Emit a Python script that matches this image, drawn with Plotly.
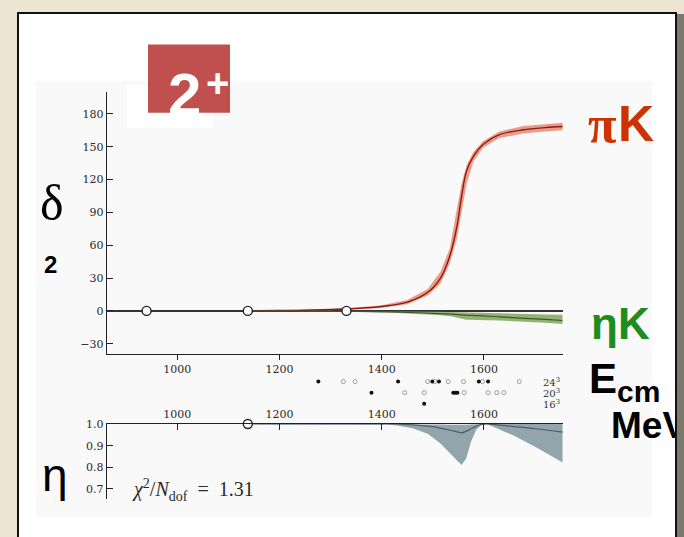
import plotly.graph_objects as go

W, H = 684, 537
def fx(px): return px / W
def fy(py): return 1 - py / H

# ---------------- data ----------------
thresholds_top = [940, 1138, 1331]
thresholds_bot = [1138]

pik_E     = [1138, 1200, 1250, 1300, 1350, 1400, 1450, 1490, 1515, 1533, 1547, 1556, 1566, 1579, 1598, 1630, 1677, 1720, 1754]
pik_delta = [0, 0.3, 0.6, 1.2, 2.2, 4, 8, 17, 30, 50, 77, 104, 128, 141, 152, 161, 165.5, 167.5, 168.5]
pik_hi    = [0, 0.5, 1.0, 1.8, 3.0, 5.2, 10, 20, 36, 57, 93, 116, 133, 145, 155, 164, 169, 171, 172]
pik_lo    = [0, 0.1, 0.2, 0.6, 1.4, 2.8, 6, 14, 25, 43, 66, 89, 116, 136, 149, 158, 162, 164, 165]

etak_E     = [1138, 1250, 1350, 1420, 1470, 1510, 1535, 1550, 1565, 1590, 1630, 1680, 1720, 1754]
etak_delta = [0, -0.1, -0.4, -1.0, -1.7, -2.5, -3.0, -3.4, -3.9, -4.4, -5.4, -6.8, -7.8, -8.8]
etak_hi    = [0, 0, -0.1, -0.3, -0.6, -0.9, -1.1, -1.3, -1.6, -1.9, -2.3, -2.8, -3.2, -3.6]
etak_lo    = [0, -0.3, -0.8, -1.7, -2.8, -3.8, -4.8, -6.5, -8.0, -8.3, -8.8, -9.8, -10.8, -12.0]

eta_E   = [1138, 1400, 1430, 1460, 1490, 1515, 1535, 1550, 1556, 1565, 1575, 1585, 1595, 1605, 1630, 1660, 1700, 1754]
eta_val = [1, 1, 0.999, 0.996, 0.99, 0.981, 0.971, 0.962, 0.959, 0.966, 0.978, 0.99, 0.998, 1.0, 0.995, 0.988, 0.978, 0.962]
eta_lo  = [1, 1, 0.993, 0.98, 0.955, 0.91, 0.862, 0.826, 0.811, 0.84, 0.92, 0.975, 0.995, 1.0, 0.975, 0.945, 0.895, 0.822]
eta_hi  = [1, 1, 1, 1, 1, 0.998, 0.996, 0.995, 0.995, 0.996, 0.998, 1, 1, 1, 1, 1, 1, 1]

# lattice levels: rows 3 = 24^3, 2 = 20^3, 1 = 16^3
lev_used_E   = [1276, 1432, 1499, 1512, 1590, 1608, 1380, 1540, 1544, 1548, 1483]
lev_used_row = [3, 3, 3, 3, 3, 3, 2, 2, 2, 2, 1]
lev_other_E   = [1325, 1348, 1490, 1504, 1530, 1560, 1597, 1669, 1445, 1483, 1561, 1608, 1625, 1639]
lev_other_row = [3, 3, 3, 3, 3, 3, 3, 3, 2, 2, 2, 2, 2, 2]
row_vals   = [3, 2, 1]
row_labels = ["24<sup>3</sup>", "20<sup>3</sup>", "16<sup>3</sup>"]

xticks = [1000, 1200, 1400, 1600]
dticks = [-30, 0, 30, 60, 90, 120, 150, 180]
eticks = [0.7, 0.8, 0.9, 1.0]
eticktext = ["0.7", "0.8", "0.9", "1.0"]
chi2_text = "<i>χ</i><sup>2</sup>/<i>N</i><sub>dof</sub>&nbsp;&nbsp;=&nbsp;&nbsp;1.31"

# ---------------- figure ----------------
fig = go.Figure()

def band(xs, lo, hi, color, xa, ya):
    fig.add_trace(go.Scatter(x=list(xs) + list(xs)[::-1], y=list(hi) + list(lo)[::-1],
                             fill="toself", fillcolor=color, line=dict(width=0),
                             mode="lines", xaxis=xa, yaxis=ya, hoverinfo="skip"))

band(pik_E, pik_lo, pik_hi, "rgba(232,140,118,0.85)", "x", "y")
band(etak_E, etak_lo, etak_hi, "rgba(130,165,95,0.85)", "x", "y")
fig.add_trace(go.Scatter(x=pik_E, y=pik_delta, mode="lines", line=dict(color="#8e1a14", width=1.4, shape="spline"), xaxis="x", yaxis="y"))
fig.add_trace(go.Scatter(x=etak_E, y=etak_delta, mode="lines", line=dict(color="#3d5a2c", width=1.2, shape="spline"), xaxis="x", yaxis="y"))
fig.add_trace(go.Scatter(x=thresholds_top, y=[0] * len(thresholds_top), mode="markers",
                         marker=dict(size=9, color="white", line=dict(color="#222", width=1.4)), xaxis="x", yaxis="y"))

band(eta_E, eta_lo, eta_hi, "rgba(140,160,168,0.95)", "x2", "y2")
fig.add_trace(go.Scatter(x=eta_E, y=eta_val, mode="lines", line=dict(color="#4a5e6a", width=1.2, shape="spline"), xaxis="x2", yaxis="y2"))
fig.add_trace(go.Scatter(x=thresholds_bot, y=[1.0] * len(thresholds_bot), mode="markers", cliponaxis=False,
                         marker=dict(size=9, color="white", line=dict(color="#222", width=1.4)), xaxis="x2", yaxis="y2"))

fig.add_trace(go.Scatter(x=lev_other_E, y=lev_other_row, mode="markers",
                         marker=dict(size=4, color="white", line=dict(color="#999", width=1)), xaxis="x3", yaxis="y3"))
fig.add_trace(go.Scatter(x=lev_used_E, y=lev_used_row, mode="markers",
                         marker=dict(size=4, color="#111"), xaxis="x3", yaxis="y3"))

# clipped "MeV" label (cut by slide border)
fig.add_trace(go.Scatter(x=[611], y=[428], mode="text", text=["<b>MeV</b>"], textposition="middle right",
                         textfont=dict(family="Liberation Sans", size=37, color="#000"),
                         cliponaxis=True, xaxis="x4", yaxis="y4"))

tickfont = dict(family="DejaVu Serif", size=11, color="#2a2a2a")
xd = [fx(106.7), fx(562.7)]
xr = [862, 1754]
fig.update_layout(
    width=W, height=H, margin=dict(l=0, r=0, t=0, b=0),
    paper_bgcolor="#ebe5d1", plot_bgcolor="rgba(0,0,0,0)", showlegend=False,
    xaxis=dict(domain=xd, range=xr, anchor="y", tickvals=xticks, ticks="outside", ticklen=5,
               showline=True, linecolor="#222", linewidth=1.2, tickcolor="#222", showgrid=False,
               zeroline=False, tickfont=tickfont),
    yaxis=dict(domain=[fy(351.7), fy(87)], range=[-39.2, 200], anchor="x", tickvals=dticks,
               ticks="inside", ticklen=6, showline=True, linecolor="#222", linewidth=1.2,
               tickcolor="#222", showgrid=False, zeroline=True, zerolinecolor="#333",
               zerolinewidth=1.5, tickfont=tickfont),
    xaxis2=dict(domain=xd, range=xr, anchor="y2", side="top", tickvals=xticks, ticks="inside",
                ticklen=6, showline=True, linecolor="#222", linewidth=1.4, tickcolor="#222",
                showgrid=False, zeroline=False, tickfont=tickfont),
    yaxis2=dict(domain=[fy(498.3), fy(422.7)], range=[0.655, 1.0], anchor="x2", tickvals=eticks,
                ticktext=eticktext, ticks="inside", ticklen=6, showline=True, linecolor="#222",
                linewidth=1.2, tickcolor="#222", showgrid=False, zeroline=False, tickfont=tickfont),
    xaxis3=dict(domain=xd, range=xr, anchor="y3", visible=False),
    yaxis3=dict(domain=[fy(410), fy(372)], range=[0.3, 3.7], anchor="x3", visible=False),
    xaxis4=dict(domain=[0, fx(675)], range=[0, 675], anchor="y4", visible=False),
    yaxis4=dict(domain=[0, 1], range=[537, 0], anchor="x4", visible=False),
)

shapes = [
    dict(type="rect", xref="paper", yref="paper", x0=fx(677), x1=1.02, y0=-0.05, y1=fy(8),
         fillcolor="#7b786c", line=dict(width=0), layer="below"),
    dict(type="rect", xref="paper", yref="paper", x0=fx(18), x1=fx(676), y0=-0.05, y1=fy(7),
         fillcolor="white", line=dict(color="#111", width=2), layer="below"),
    dict(type="rect", xref="paper", yref="paper", x0=fx(36), x1=fx(652), y0=fy(517), y1=fy(76),
         fillcolor="#f9f9f9", line=dict(width=0), layer="below"),
    dict(type="rect", xref="paper", yref="paper", x0=fx(127), x1=fx(213), y0=fy(123), y1=fy(80),
         fillcolor="white", line=dict(width=0), layer="below"),
    dict(type="rect", xref="paper", yref="paper", x0=fx(148), x1=fx(230), y0=fy(108), y1=fy(39),
         fillcolor="#c0504d", line=dict(width=0), layer="above"),
]
fig.update_layout(shapes=shapes)

ann = []
def A(text, x, y, size, color="#000", family="Liberation Sans", xanchor="center", yanchor="middle", **kw):
    ann.append(dict(text=text, x=fx(x), y=fy(y), xref="paper", yref="paper", showarrow=False,
                    xanchor=xanchor, yanchor=yanchor,
                    font=dict(size=size, color=color, family=family), **kw))

A("<b>2</b>", 184, 90, 60, color="white")
A("<b>+</b>", 217, 78, 40, color="white")
A("δ", 52, 199, 50, family="Liberation Serif")
A("<b>2</b>", 50, 261, 24)
A("η", 55, 474, 46, family="Liberation Sans")
A("<b>π</b>", 602, 120, 52, color="#cc3300", family="Liberation Serif")
A("<b>K</b>", 636, 119, 50, color="#cc3300")
A("<b>ηK</b>", 620, 321, 44, color="#1e8c1e")
A("<b>E</b>", 603, 377, 42)
A("<b>cm</b>", 638, 390, 30)
A(chi2_text, 130, 489, 20, color="#2a2a2a", family="Liberation Serif", xanchor="left")
for v, t in zip(row_vals, row_labels):
    ann.append(dict(text=t, x=1732, y=v, xref="x3", yref="y3", showarrow=False,
                    font=dict(size=10, color="#333", family="DejaVu Serif")))
fig.update_layout(annotations=ann)

fig.write_html("out.html")
